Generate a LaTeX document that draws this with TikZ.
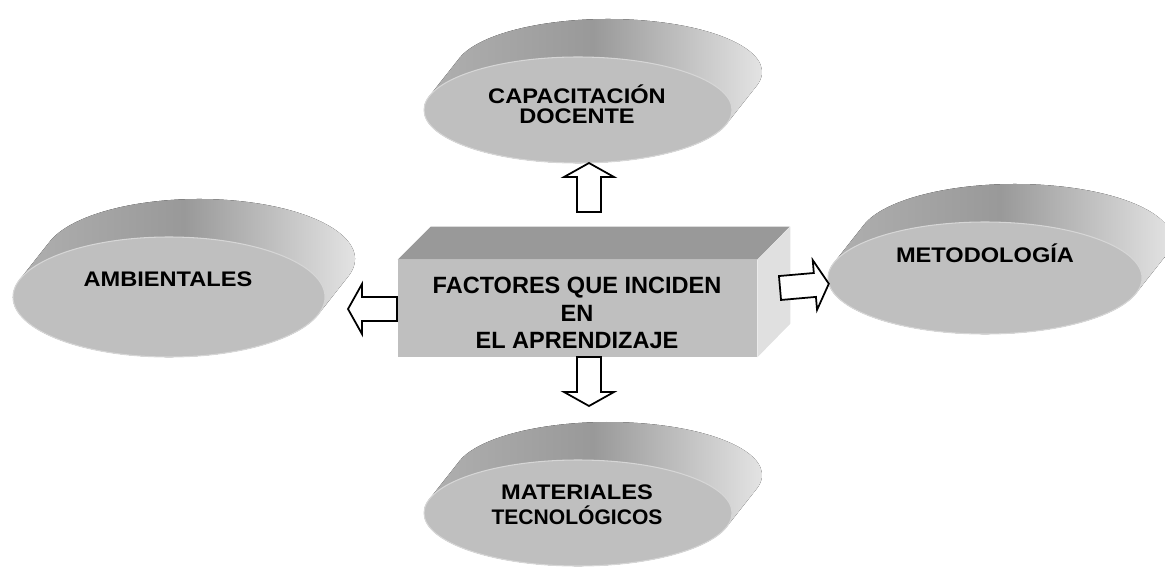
\documentclass[tikz,border=0pt]{standalone}
\usepackage{fontspec}
\setmainfont{Liberation Sans}
\newfontfamily\anchafont[FakeStretch=1.12]{Liberation Sans}
\usetikzlibrary{calc}

\begin{document}
\begin{tikzpicture}[
		x=0.02cm, y=-0.02cm,
		caja/.style={draw=none, fill=black!25, minimum width=7.18cm, minimum height=1.94cm, inner sep=0pt},
		titulo/.style={align=center, font=\bfseries\fontsize{13.4}{15.6}\selectfont},
		rotulo/.style={align=center, font=\anchafont\bfseries\fontsize{12}{11.6}\selectfont},
		pics/disco/.style 2 args={code={
				\begin{scope}[y=0.02cm]
					\pgfmathsetmacro\ang{atan(-(#2*30)/(#1*38))}
					\fill[left color=black!30, right color=black!8, middle color=black!40]
					(\ang:{#1} and {#2}) arc[start angle=\ang, end angle=\ang-180, x radius=#1, y radius=#2]
					-- ++(30,38) arc[start angle=\ang+180, end angle=\ang, x radius=#1, y radius=#2] -- cycle;
					\fill[black!25] (0,0) ellipse [x radius=#1, y radius=#2];
					\draw[black!16, line width=0.6pt] (0,0) ellipse [x radius=#1, y radius=#2];
				\end{scope}
		}},
		pics/flecha/.style={code={
				\draw[line width=1pt, fill=white] (0,-12) -- (35,-12) -- (35,-25) -- (49,0) -- (35,25) -- (35,12) -- (0,12) -- cycle;
		}}
		]
		\useasboundingbox (0,0) rectangle (1165,568);
		
		% discos
		\pic at (578,110) {disco={154}{53}};
		\pic at (169,297) {disco={156}{60}};
		\pic at (985,278) {disco={157}{56}};
		\pic at (578,513) {disco={154}{53}};
		
		% caja central
		\node[caja] (factores) at (577.5,308.5) {};
		\fill[black!40] (factores.north west) -- ++(33,-33) -- ++(359,0) -- (factores.north east) -- cycle;
		\fill[black!12] (factores.north east) -- ++(33,-33) -- ++(0,97) -- (factores.south east) -- cycle;
		\begin{scope}
			\clip (factores.north west) rectangle ($(factores.south east)+(0,-9)$);
			\node[titulo] (factores-txt) at (577,313) {FACTORES QUE INCIDEN\\EN\\EL APRENDIZAJE};
		\end{scope}
		
		% rotulos
		\node[rotulo] (capacitacion) at (577,104) {CAPACITACIÓN\\DOCENTE};
		\node[rotulo] (ambientales) at (168,279) {AMBIENTALES};
		\node[rotulo] (metodologia) at (985,253) {METODOLOGÍA};
		\node[rotulo, font=\anchafont\bfseries\fontsize{12}{14.2}\selectfont] (materiales) at (577,505) {MATERIALES\\{\rmfamily TECNOLÓGICOS}};
		
		% flechas
		\pic[rotate=90] at (589,212) {flecha};
		\pic[rotate=-90] at (589,357) {flecha};
		\pic[rotate=180] at (397,309) {flecha};
		\pic[rotate=5] at (780,288) {flecha};
	\end{tikzpicture}
\end{document}
